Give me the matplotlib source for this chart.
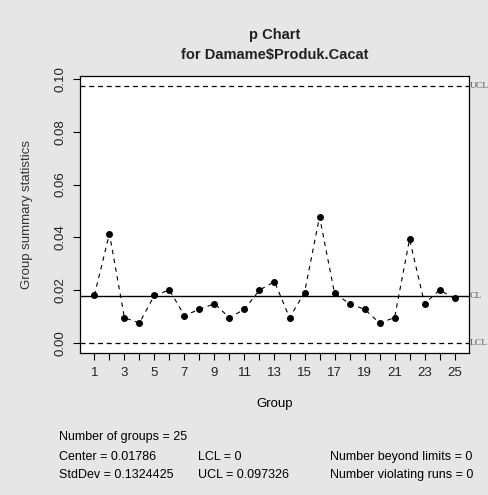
import matplotlib
matplotlib.use("Agg")
import matplotlib.pyplot as plt
import numpy as np

plt.rcParams['font.family'] = ['Liberation Sans', 'DejaVu Sans']

groups = list(range(1, 26))
proportions = [0.0180, 0.0414, 0.0095, 0.0075, 0.0180, 0.0200, 0.0103, 0.0127,
               0.0148, 0.0095, 0.0127, 0.0200, 0.0232, 0.0095, 0.0190, 0.0478,
               0.0188, 0.0148, 0.0127, 0.0075, 0.0095, 0.0393, 0.0148, 0.0200,
               0.0168]
center = 0.01786
lcl = 0.0
ucl = 0.097326
stddev = 0.1324425
ytick_vals = [0.00, 0.02, 0.04, 0.06, 0.08, 0.10]
ytick_labels = ["0.00", "0.02", "0.04", "0.06", "0.08", "0.10"]
xtick_labels = [str(g) if g % 2 == 1 else "" for g in groups]

bg = "#e6e6e6"
fig = plt.figure(figsize=(4.89, 4.95), dpi=100, facecolor=bg)
ax = fig.add_axes([80/489, 1-353/495, (469-80)/489, (353-76)/495])
ax.set_facecolor("white")

ax.plot(groups, proportions, linestyle=(0, (4, 4)), color="black", lw=0.8)
ax.plot(groups, proportions, "o", color="black", ms=4)
ax.axhline(center, color="black", lw=1.0)
ax.axhline(ucl, color="black", lw=0.9, linestyle=(0, (4, 3)))
ax.axhline(lcl, color="black", lw=0.9, linestyle=(0, (4, 3)))

rng = ucl - lcl
ax.set_ylim(lcl - 0.04*rng, ucl + 0.04*rng)
ax.set_xlim(1 - 0.04*24, 25 + 0.04*24)

ax.set_yticks(ytick_vals)
ax.set_yticklabels(ytick_labels, rotation=90, va="center", fontsize=9.5, color="#222222")
ax.set_xticks(groups)
ax.set_xticklabels(xtick_labels, fontsize=9.5, color="#222222")
ax.tick_params(axis="both", direction="out", length=5, width=0.8, colors="black",
               labelcolor="#222222", pad=5)
for s in ax.spines.values():
    s.set_linewidth(0.9)

trans = ax.get_yaxis_transform()
for lbl, val in [("UCL", ucl), ("CL", center), ("LCL", lcl)]:
    ax.text(1.002, val, lbl, transform=trans, va="center", ha="left",
            fontsize=6.8, color="#555555", clip_on=False, family="Liberation Serif")

ax.set_xlabel("Group", fontsize=9.5, labelpad=14)
ax.set_ylabel("Group summary statistics", fontsize=9.5, labelpad=15, color="#333333")

fig.text(275/489, 1-35/495, "p Chart", ha="center", va="center",
         fontsize=10.5, fontweight="bold", color="#222222")
fig.text(275/489, 1-55/495, "for Damame$Produk.Cacat", ha="center", va="center",
         fontsize=10.5, fontweight="bold", color="#222222")

fs = 9
fig.text(59/489, 1-437/495, "Number of groups = 25", fontsize=fs, va="center")
fig.text(59/489, 1-457/495, "Center = %s" % "0.01786", fontsize=fs, va="center")
fig.text(59/489, 1-475/495, "StdDev = %s" % "0.1324425", fontsize=fs, va="center")
fig.text(198/489, 1-457/495, "LCL = %g" % lcl, fontsize=fs, va="center")
fig.text(198/489, 1-475/495, "UCL = %s" % "0.097326", fontsize=fs, va="center")
fig.text(330/489, 1-457/495, "Number beyond limits = 0", fontsize=fs, va="center")
fig.text(330/489, 1-475/495, "Number violating runs = 0", fontsize=fs, va="center")

fig.savefig("out.png", dpi=100, facecolor=bg)
